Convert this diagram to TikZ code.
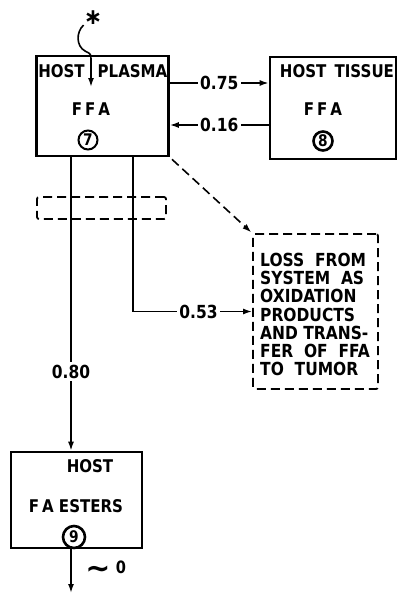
\documentclass[tikz,border=0pt]{standalone}
\usepackage{fontspec}
\setsansfont{DejaVu Sans}[FakeStretch=0.86]
\newfontfamily\symfont{DejaVu Sans}
\usepackage{tikz}
\usetikzlibrary{arrows.meta,positioning,calc}

\tikzset{
  pool/.style={draw,line width=2.6pt,inner sep=0pt},
  sink/.style={draw,dash pattern=on 9pt off 5pt,line width=1.8pt,rounded corners=2pt,inner sep=0pt},
  flow/.style={line width=1.6pt,-{Latex[length=9pt,width=6pt]}},
  tag/.style={inner sep=0pt,font=\sffamily\bfseries\fontsize{17.5}{18.2}\selectfont},
  rate/.style={fill=white,inner sep=2.5pt,font=\sffamily\bfseries\fontsize{18}{18}\selectfont},
  poolno/.style={circle,draw,line width=2pt,minimum size=19pt,inner sep=0pt,font=\sffamily\bfseries\fontsize{16}{16}\selectfont},
}

\begin{document}
\begin{tikzpicture}[x=1pt,y=-1pt]
  \useasboundingbox (0,0) rectangle (399,594);
  % compartments
  \node[pool,minimum width=132pt,minimum height=100pt] (plasma) at (102.5,106) {};
  \node[pool,minimum width=126pt,minimum height=102pt] (tissue) at (333,108) {};
  \node[pool,minimum width=131pt,minimum height=96pt] (esters) at (76.5,500) {};
  \node[sink,minimum width=125pt,minimum height=155pt] (loss) at (315.5,311.5) {};
  \node[sink,minimum width=129pt,minimum height=22pt] (gap) at (101.5,208) {};
  % labels inside the compartments
  \node[tag] at (61.5,71.5) {HOST};
  \node[tag] at (132.5,71.5) {PLASMA};
  \node[tag] at (91,109) {F\hspace{3pt}F\hspace{3pt}A};
  \node[poolno] (n7) at (88,140) {7};
  \node[tag] at (337,71.5) {HOST\ \,TISSUE};
  \node[tag] at (323,109) {F\hspace{3pt}F\hspace{3pt}A};
  \node[poolno,line width=2.6pt] (n8) at (323,141) {8};
  \node[tag] at (90,466) {HOST};
  \node[tag] at (76,506) {F\,A\ ESTERS};
  \node[poolno,minimum size=22pt,line width=2.6pt] (n9) at (74,537) {9};
  \node[tag,font=\sffamily\bfseries\fontsize{18}{18.2}\selectfont,align=left,anchor=north west] (losstext) at (260,253)
    {LOSS\ \ FROM\\SYSTEM\ \ AS\\OXIDATION\\PRODUCTS\\AND\ TRANS-\\FER\ \ OF\ \ FFA\\TO\ \ TUMOR};
  % input to the plasma pool
  \node[inner sep=0pt,font=\symfont\bfseries\fontsize{22}{22}\selectfont] (star) at (93,18) {∗};
  \coordinate (inflow) at (91,87);
  \draw[flow] (star.south west) .. controls (76,32) and (76,46) .. (85,51)
    .. controls (91,54) .. (91,60) -- (inflow);
  % guide coordinates for the flow lines
  \coordinate (y075) at (0,83);
  \coordinate (y016) at (0,125);
  \coordinate (x080) at (71,0);
  \coordinate (x053) at (133,0);
  % exchange with tissue
  \draw[flow] (plasma.east |- y075) -- node[rate]{0.75} (tissue.west |- y075);
  \draw[flow] (tissue.west |- y016) -- node[rate]{0.16} (plasma.east |- y016);
  % outflows
  \draw[flow] (plasma.south -| x080) -- node[rate,pos=0.73]{0.80} (esters.north -| x080);
  \draw[flow] (plasma.south -| x053) |- node[rate,pos=0.775]{0.53} (loss.west);
  \draw[flow,dash pattern=on 9pt off 5pt,shorten <=3pt,shorten >=1pt] (plasma.south east) -- (loss.north west);
  \coordinate (drain) at (71,593);
  \draw[flow] (esters.south -| x080) -- (drain);
  \node[inner sep=0pt,font=\symfont\bfseries\fontsize{30}{30}\selectfont] (approx) at (98,572) {∼};
  \node[inner sep=0pt,font=\sffamily\bfseries\fontsize{17}{17}\selectfont] (zero) at (121,567) {0};
\end{tikzpicture}
\end{document}
